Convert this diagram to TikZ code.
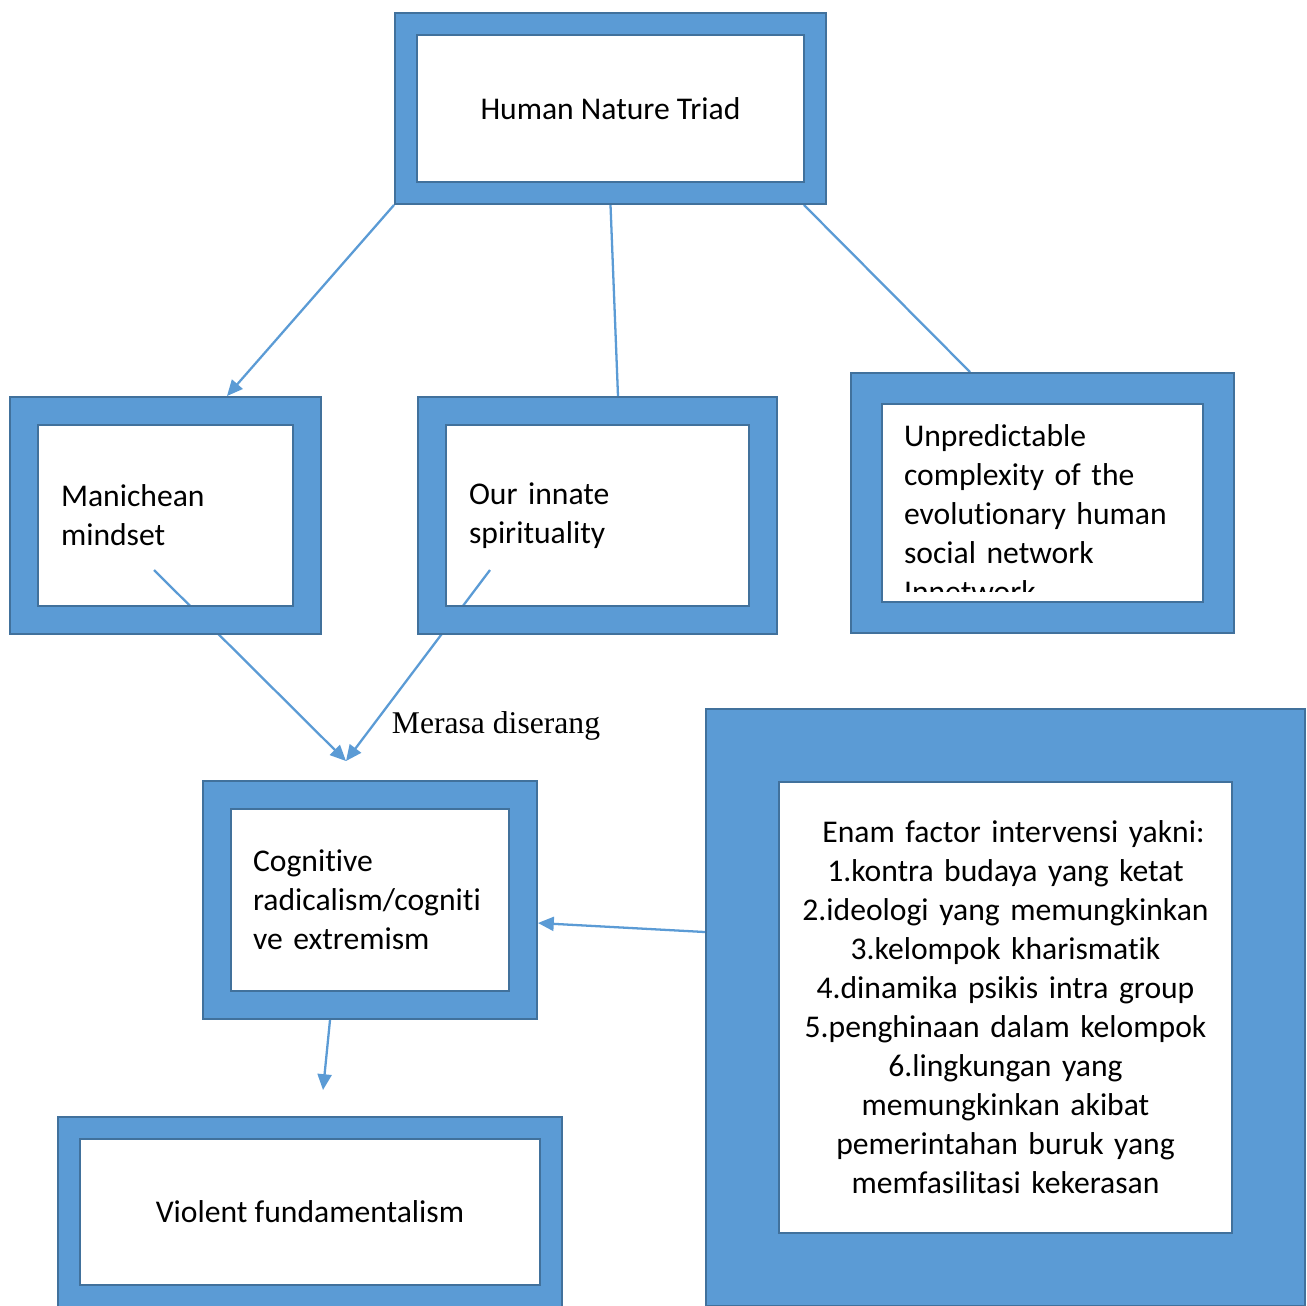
\documentclass[tikz,border=0pt]{standalone}
\usepackage{fontspec}
\setmainfont{Carlito}[Ligatures=NoCommon]
\newfontfamily\serifrm{Liberation Serif}
\usetikzlibrary{arrows.meta,backgrounds}
\definecolor{boxblue}{HTML}{5B9BD5}
\definecolor{edgeblue}{HTML}{41719C}

\begin{document}
\begin{tikzpicture}[x=0.02cm,y=-0.02cm,>={Triangle[length=9pt,width=8pt]},
  boxframe/.style={rectangle,draw=edgeblue,line width=0.9pt,double=boxblue,
    double distance=#1-1.8pt,outer sep=#1/2,inner sep=0pt,
    font=\fontsize{18}{22.2}\selectfont},
  link/.style={draw=boxblue,line width=1.3pt}]
\useasboundingbox (0,0) rectangle (1307,1305);

\node[boxframe=0.48cm,minimum width=8.18cm,minimum height=3.38cm] (triad) at (610.5,108.5) {Human Nature Triad};
\node[boxframe=0.6cm,minimum width=5.66cm,minimum height=4.18cm,text width=4.18cm,align=left] (mani) at (165.5,515.5) {Manichean\\mindset};
\node[boxframe=0.6cm,minimum width=6.62cm,minimum height=4.18cm,text width=5.14cm,align=left] (spirit) at (597.5,515.5) {Our innate\\spirituality};
\node[boxframe=0.66cm,minimum width=7.04cm,minimum height=4.58cm] (unpred) at (1042.5,503) {};
\begin{scope}
  \clip (883,405) rectangle (1201,591);
  \node[font=\fontsize{18}{22.2}\selectfont,text width=5.54cm,align=left,inner sep=0pt] (unpredtext) at (1042.5,514)
    {Unpredictable\\complexity of the\\evolutionary human\\social network\\Innetwork};
\end{scope}
\node[boxframe=0.6cm,minimum width=6.12cm,minimum height=4.2cm,text width=4.68cm,align=left] (cogn) at (370,900) {Cognitive\\radicalism/cogniti\\ve extremism};
\node[boxframe=0.48cm,minimum width=9.64cm,minimum height=3.36cm] (violent) at (310,1212) {Violent fundamentalism};
\node[boxframe=1.5cm,minimum width=10.52cm,minimum height=10.48cm,text width=8.8cm,align=center] (enam) at (1005.5,1007.5)
  {\hspace*{9pt}Enam factor intervensi yakni:\\1.kontra budaya yang ketat\\2.ideologi yang memungkinkan\\3.kelompok kharismatik\\4.dinamika psikis intra group\\5.penghinaan dalam kelompok\\6.lingkungan yang\\memungkinkan akibat\\pemerintahan buruk yang\\memfasilitasi kekerasan};
\node[font=\serifrm\fontsize{18}{22}\selectfont] (attacked) at (496,726) {Merasa diserang};

\coordinate (manistart) at (154,570);
\coordinate (spiritstart) at (490,570);
\coordinate (meet) at (346,761);
\coordinate (cognend) at (323,1090);

\begin{scope}[on background layer]
\draw[link,->] (triad.south west) -- ([xshift=1.23cm]mani.north);
\draw[link] (triad.south) -- ([xshift=0.41cm]spirit.north);
\draw[link] ([xshift=-0.46cm]triad.south east) -- ([xshift=-1.45cm]unpred.north);
\draw[link,->] (manistart) -- (meet);
\draw[link,->] (spiritstart) -- (meet);
\draw[link,->] ([yshift=1.51cm]enam.west) -- ([yshift=-0.46cm]cogn.east);
\draw[link,->] ([xshift=-0.8cm]cogn.south) -- (cognend);
\end{scope}
\end{tikzpicture}
\end{document}
